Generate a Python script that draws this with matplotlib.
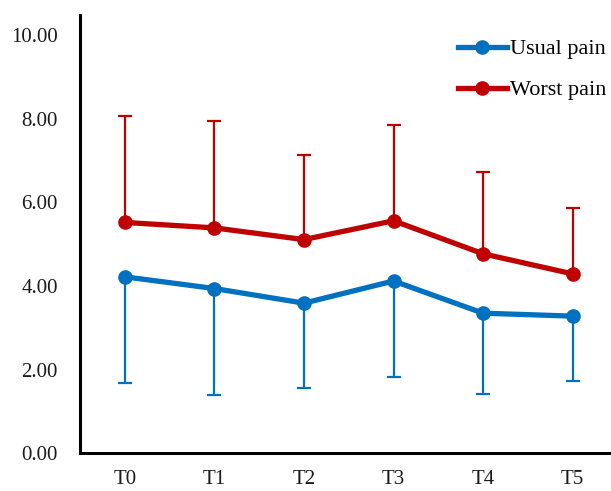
import matplotlib
matplotlib.use("Agg")
import matplotlib.pyplot as plt
import numpy as np

categories = ["T0", "T1", "T2", "T3", "T4", "T5"]
usual_mean = [4.22, 3.94, 3.59, 4.12, 3.35, 3.28]
usual_sd = [2.53, 2.54, 2.02, 2.29, 1.94, 1.55]
worst_mean = [5.52, 5.39, 5.11, 5.56, 4.77, 4.29]
worst_sd = [2.54, 2.55, 2.02, 2.29, 1.95, 1.57]
yticks = [0, 2, 4, 6, 8, 10]

blue = "#0070C0"
red = "#C00000"

plt.rcParams['font.family'] = ['Liberation Serif', 'DejaVu Serif']

fig = plt.figure(figsize=(6.11, 4.91), dpi=100)
ax = fig.add_axes([80/611, 1 - 453.3/491, 537.5/611, 438.3/491])

x = np.arange(len(categories))
um = np.array(usual_mean); us = np.array(usual_sd)
wm = np.array(worst_mean); ws = np.array(worst_sd)

# error bars (one-sided)
ax.vlines(x, um - us, um, color=blue, lw=1.6, zorder=2)
ax.plot(x, um - us, ls='none', marker='_', markersize=10, mew=1.6, color=blue, zorder=2)
ax.vlines(x, wm, wm + ws, color=red, lw=1.6, zorder=2)
ax.plot(x, wm + ws, ls='none', marker='_', markersize=10, mew=1.6, color=red, zorder=2)

ax.plot(x, um, color=blue, lw=3.8, marker='o', markersize=9.5, label="Usual pain", zorder=3)
ax.plot(x, wm, color=red, lw=3.8, marker='o', markersize=9.5, label="Worst pain", zorder=3)

ax.set_xlim(-0.5, 5.5)
ax.set_ylim(0, 10.48)
ax.set_xticks(x)
ax.set_xticklabels(categories)
ax.set_yticks(yticks)
ax.set_yticklabels([f"{v:.2f}" for v in yticks])
ax.tick_params(axis='both', length=0, labelsize=15, colors='#1a1a1a')
ax.tick_params(axis='y', pad=16)
ax.tick_params(axis='x', pad=12)
for s in ['top', 'right']:
    ax.spines[s].set_visible(False)
for s in ['left', 'bottom']:
    ax.spines[s].set_linewidth(2.2)
    ax.spines[s].set_color('black')

fig.legend(loc='upper left', bbox_to_anchor=(458/611, 0.921), frameon=False,
           fontsize=16, handlelength=2.2, handletextpad=0.15, labelspacing=0.92,
           borderpad=0, borderaxespad=0)

fig.savefig("out.png", dpi=100)
